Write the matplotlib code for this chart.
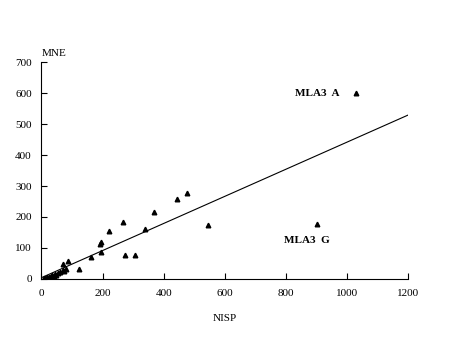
import numpy as np
import matplotlib
matplotlib.use("Agg")
import matplotlib.pyplot as plt

plt.rcParams['font.family'] = ['Liberation Serif', 'DejaVu Serif']

# NISP vs MNE per assemblage
nisp = [475, 444, 368, 545, 339, 267, 220, 195, 192, 194, 161, 274, 305,
        124, 88, 70, 80, 71, 54, 48, 40, 30, 25, 18, 12, 8, 60, 75, 45, 35,
        1030, 902]
mne = [278, 259, 215, 175, 161, 185, 156, 120, 114, 88, 72, 76, 77,
       31, 59, 49, 33, 28, 18, 14, 11, 9, 7, 5, 3, 2, 22, 27, 16, 12,
       600, 177]

# fitted line
slope = 0.437
intercept = 4.3
line_x = [0, 1200]

labels = ["MLA3  A", "MLA3  G"]
label_pos = [(977, 598), (945, 123)]

fig = plt.figure(figsize=(4.64, 3.49), dpi=100)
ax = fig.add_axes([0.0894, 0.2006, 0.7898, 0.6217])

ax.plot(nisp, mne, linestyle='none', marker='^', color='black', markersize=3.3)
ax.plot(line_x, [intercept + slope * v for v in line_x], color='black', linewidth=0.8)

ax.set_xlim(0, 1200)
ax.set_ylim(0, 700)
ax.set_xticks(range(0, 1201, 200))
ax.set_yticks(range(0, 701, 100))
ax.spines['top'].set_visible(False)
ax.spines['right'].set_visible(False)
for s in ('left', 'bottom'):
    ax.spines[s].set_linewidth(0.8)
ax.tick_params(direction='in', length=4, width=0.8, labelsize=8, pad=7)

ax.text(0, 712, "MNE", fontsize=8, ha='left', va='bottom')
ax.text(600, -126, "NISP", fontsize=8, ha='center', va='center')

for (lx, ly), txt in zip(label_pos, labels):
    ax.text(lx, ly, txt, fontsize=8, fontweight='bold', ha='right', va='center')

fig.savefig("out.png", dpi=100)
